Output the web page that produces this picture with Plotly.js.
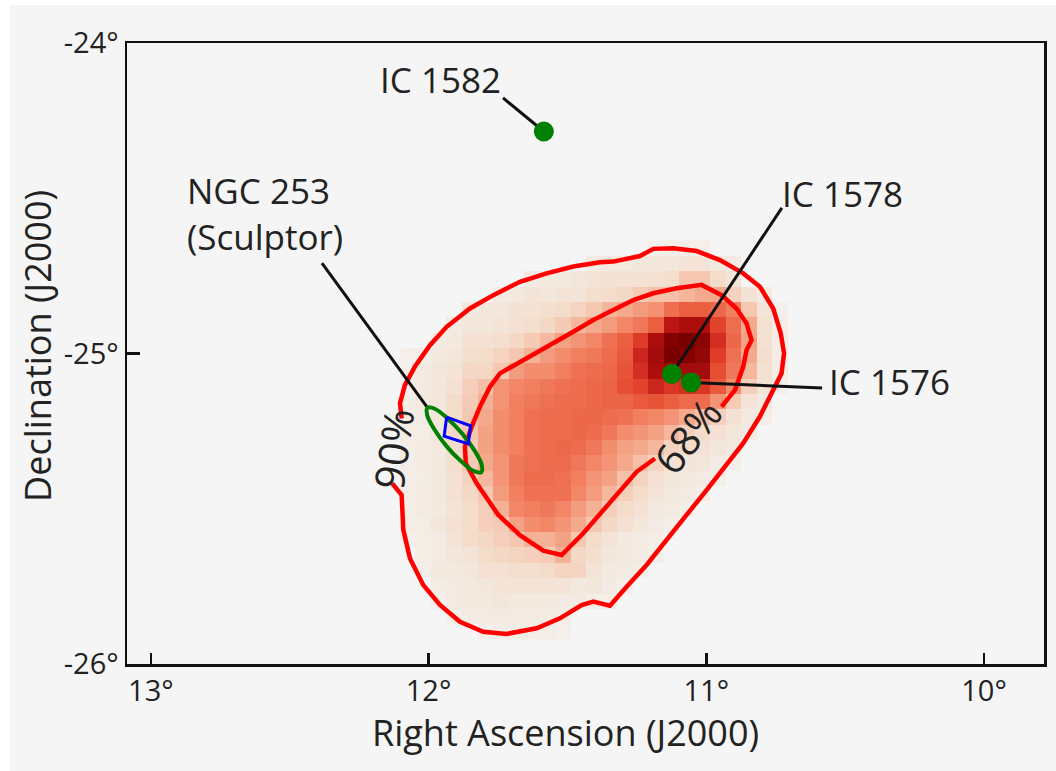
<!DOCTYPE html>
<html>
<head>
<meta charset="utf-8">
<script src="https://cdn.plot.ly/plotly-3.0.1.min.js"></script>
<style>html,body{margin:0;padding:0;background:#fff;overflow:hidden}</style>
</head>
<body>
<div id="chart" style="width:1056px;height:771px"></div>
<script>
// Likelihood map (relative intensity, 0 = empty), rows from north to south
const mapRa0 = 12.0753, mapDRa = -0.05582, mapDec0 = -24.661, mapDDec = -0.04944;
const mapZ = [
[0,0,0,0,0,0,0,0,0,0,0,0,0,0,0,0,5,6,6,5,0,0,0,0,0],
[0,0,0,0,0,0,0,0,0,0,0,0,8,10,10,12,12,12,14,14,10,8,0,0,0],
[0,0,0,0,0,0,0,0,8,10,10,12,14,16,15,15,16,18,30,30,20,14,0,0,0],
[0,0,0,0,0,0,8,10,14,12,14,14,18,20,22,28,32,32,35,38,38,25,15,8,0],
[0,0,0,0,10,12,12,15,15,18,20,24,30,35,38,42,45,55,62,62,58,50,30,14,5],
[0,0,0,8,12,12,14,16,18,22,28,34,38,42,48,52,62,84,88,88,72,55,38,16,7],
[0,0,8,10,16,16,18,22,28,34,40,44,48,54,62,75,88,98,100,96,78,58,40,16,7],
[5,6,10,12,18,20,24,30,36,42,46,50,52,56,64,80,90,100,98,94,74,54,38,18,7],
[5,8,12,14,22,22,30,42,46,46,50,54,56,58,66,78,88,92,90,90,68,52,34,16,7],
[6,8,12,16,26,32,44,48,50,52,54,56,58,60,68,72,80,76,78,76,64,46,26,14,6],
[7,10,12,20,28,36,44,50,52,54,56,56,58,60,60,64,66,62,56,56,44,28,14,10,0],
[7,8,12,20,30,38,46,50,54,56,56,58,58,56,54,50,48,44,38,32,26,16,10,7,0],
[7,7,12,22,30,40,46,50,54,56,56,58,56,52,46,44,40,34,26,20,16,12,8,0,0],
[7,8,10,20,26,40,46,50,54,56,58,56,52,46,40,38,34,24,20,16,12,10,0,0,0],
[7,8,10,18,28,38,44,52,54,56,56,52,48,44,38,32,24,16,14,12,8,6,0,0,0],
[7,7,10,16,24,34,44,52,56,56,54,50,44,40,32,24,16,12,10,8,6,0,0,0,0],
[7,8,10,16,22,30,42,50,54,54,54,48,42,34,26,20,14,10,8,6,0,0,0,0,0],
[7,8,10,14,20,26,36,48,50,52,48,42,36,26,20,16,10,8,6,0,0,0,0,0,0],
[7,7,12,16,20,26,28,40,46,48,44,38,30,22,16,12,8,6,0,0,0,0,0,0,0],
[5,7,8,14,20,22,26,30,36,36,40,30,20,14,10,8,6,0,0,0,0,0,0,0,0],
[0,7,8,12,14,20,22,24,26,28,36,22,18,12,10,8,6,0,0,0,0,0,0,0,0],
[0,6,10,10,12,16,16,18,18,20,24,24,14,10,8,6,0,0,0,0,0,0,0,0,0],
[0,0,7,8,10,12,14,14,14,14,14,10,12,8,6,0,0,0,0,0,0,0,0,0,0],
[0,0,5,8,10,10,12,10,10,10,8,8,6,6,0,0,0,0,0,0,0,0,0,0,0],
[0,0,0,6,8,8,8,8,8,8,7,0,0,0,0,0,0,0,0,0,0,0,0,0,0],
[0,0,0,0,0,6,7,7,7,7,5,0,0,0,0,0,0,0,0,0,0,0,0,0,0]
];
const mapScale = [[0,'#f5f5f5'],[0.1,'#f3e9df'],[0.2,'#f4dccb'],[0.3,'#f5c7b0'],[0.4,'#f4a284'],[0.5,'#f17f60'],[0.55,'#ee6e50'],[0.6,'#ec6446'],[0.7,'#e5492f'],[0.75,'#dd3a28'],[0.85,'#b81212'],[1,'#7a0000']];

// 90% contour (RA, Dec)
const c90Ra = [12.097,12.103,12.085,12.049,11.995,11.935,11.851,11.767,11.671,11.575,11.479,11.383,11.335,11.239,11.191,11.119,11.035,10.951,10.867,10.807,10.759,10.732,10.720,10.729,10.765,10.807,10.867,10.927,10.999,11.071,11.143,11.215,11.287,11.347,11.407,11.449,11.527,11.611,11.719,11.803,11.887,11.959,12.019,12.067,12.091,12.097,12.131];
const c90Dec = [-25.209,-25.160,-25.101,-25.042,-24.973,-24.914,-24.855,-24.812,-24.769,-24.742,-24.720,-24.706,-24.704,-24.686,-24.663,-24.661,-24.670,-24.699,-24.742,-24.785,-24.855,-24.935,-24.999,-25.064,-25.128,-25.203,-25.289,-25.359,-25.440,-25.520,-25.601,-25.681,-25.751,-25.812,-25.799,-25.810,-25.853,-25.885,-25.903,-25.896,-25.864,-25.810,-25.746,-25.660,-25.568,-25.456,-25.418];

// 68% contour (RA, Dec)
const c68Ra = [10.945,10.897,10.867,10.855,10.837,10.855,10.891,10.945,11.017,11.107,11.191,11.263,11.335,11.407,11.479,11.575,11.671,11.743,11.779,11.815,11.845,11.869,11.866,11.827,11.749,11.671,11.587,11.521,11.443,11.371,11.311,11.251,11.185];
const c68Dec = [-25.171,-25.118,-25.042,-24.989,-24.957,-24.903,-24.855,-24.812,-24.779,-24.790,-24.806,-24.828,-24.860,-24.892,-24.930,-24.978,-25.026,-25.064,-25.107,-25.171,-25.236,-25.300,-25.354,-25.418,-25.520,-25.585,-25.635,-25.649,-25.579,-25.504,-25.440,-25.381,-25.338];

// NGC 253 optical ellipse and blue box
const ellRa = [11.810,11.809,11.835,11.879,11.932,11.978,12.004,12.005,11.979,11.935,11.882,11.836,11.810];
const ellDec = [-25.382,-25.358,-25.312,-25.258,-25.209,-25.178,-25.175,-25.199,-25.245,-25.299,-25.348,-25.379,-25.382];
const boxRa = [11.935,11.849,11.857,11.944,11.935];
const boxDec = [-25.205,-25.233,-25.291,-25.266,-25.205];

// Galaxies
const galRa = [11.585,11.124,11.055];
const galDec = [-24.285,-25.066,-25.093];

// Leader lines
const lead1582Ra = [11.732,11.585], lead1582Dec = [-24.177,-24.285];
const lead1578Ra = [10.728,11.124], lead1578Dec = [-24.531,-25.066];
const lead1576Ra = [10.583,11.055], lead1576Dec = [-25.111,-25.093];
const leadNgcRa = [12.384,12.006], leadNgcDec = [-24.709,-25.172];

// Labels
const labelText = ['IC 1582','IC 1578','IC 1576','NGC 253<br>(Sculptor)','90%','68%'];
const labelRa = [11.956,10.508,10.339,12.878,12.128,11.069];
const labelDec = [-24.116,-24.486,-25.089,-24.5475,-25.308,-25.266];
const labelAngle = [0,0,0,0,-82,-52];
const labelAnchor = ['center','center','center','left','center','center'];
const labelSize = [35,35,35,35,41,41];

const xTicks = [13,12,11,10], xTickText = ['13°','12°','11°','10°'];
const yTicks = [-24,-25,-26], yTickText = ['-24°','-25°','-26°'];
const xTitle = 'Right Ascension (J2000)', yTitle = 'Declination (J2000)';

const FONT = '"Open Sans", sans-serif';
const INK = '#222222';
const mapRa = mapZ[0].map((_, i) => mapRa0 + i * mapDRa);
const mapDec = mapZ.map((_, i) => mapDec0 + i * mapDDec);
const line = (x, y, color, width, shape) => ({type:'scatter', mode:'lines', x, y, hoverinfo:'skip', showlegend:false, line:{color, width, shape: shape || 'linear'}});

const traces = [
  {type:'heatmap', x:mapRa, y:mapDec, z:mapZ, zmin:0, zmax:100, colorscale:mapScale, showscale:false, hoverinfo:'skip', zsmooth:false},
  line(c90Ra, c90Dec, '#ff0000', 4.5),
  line(c68Ra, c68Dec, '#ff0000', 4.5),
  line(lead1582Ra, lead1582Dec, '#111111', 3),
  line(lead1578Ra, lead1578Dec, '#111111', 3),
  line(lead1576Ra, lead1576Dec, '#111111', 3),
  line(leadNgcRa, leadNgcDec, '#111111', 3),
  line(ellRa, ellDec, '#008000', 4, 'spline'),
  line(boxRa, boxDec, '#0000ff', 3),
  {type:'scatter', mode:'markers', x:galRa, y:galDec, hoverinfo:'skip', showlegend:false, marker:{color:'#008000', size:20}}
];

const dataLabels = labelText.map((t,i)=>({text:t, x:labelRa[i], y:labelDec[i], xref:'x', yref:'y', showarrow:false, textangle:labelAngle[i], xanchor:labelAnchor[i], yanchor:'middle', align:labelAnchor[i], font:{size:labelSize[i], family:FONT, color:INK}}));
const axisLabels = [
  {text:xTitle, xref:'paper', yref:'paper', x:0.4782, y:-0.1111, xanchor:'center', yanchor:'middle', showarrow:false, font:{size:36, family:FONT, color:INK}},
  {text:yTitle, xref:'paper', yref:'paper', x:-0.0971, y:0.5121, xanchor:'center', yanchor:'middle', textangle:-90, showarrow:false, font:{size:36, family:FONT, color:INK}}
];

const layout = {
  width:1056, height:771,
  margin:{l:127, r:12, t:43, b:107, pad:0},
  paper_bgcolor:'#ffffff', plot_bgcolor:'rgba(0,0,0,0)',
  font:{family:FONT, color:INK, size:28},
  showlegend:false,
  xaxis:{range:[13.086,9.784], tickmode:'array', tickvals:xTicks, ticktext:xTickText, ticks:'inside', ticklen:11, tickwidth:2.5, tickcolor:'#111',
    showgrid:false, zeroline:false, showline:true, mirror:true, linecolor:'#111', linewidth:2.5, tickfont:{size:29, family:FONT, color:INK}},
  yaxis:{range:[-26,-24], tickmode:'array', tickvals:yTicks, ticktext:yTickText, ticks:'inside', ticklen:13, tickwidth:2.5, tickcolor:'#111',
    showgrid:false, zeroline:false, showline:true, mirror:true, linecolor:'#111', linewidth:2.5, tickfont:{size:29, family:FONT, color:INK}},
  shapes:[{type:'rect', xref:'paper', yref:'paper', x0:-0.1276, x1:1.0131, y0:-0.1723, y1:1.0612, fillcolor:'#f5f5f5', line:{width:0}, layer:'below'}],
  annotations: dataLabels.concat(axisLabels)
};
Plotly.newPlot('chart', traces, layout, {displayModeBar:false, staticPlot:true});
</script>
</body>
</html>
